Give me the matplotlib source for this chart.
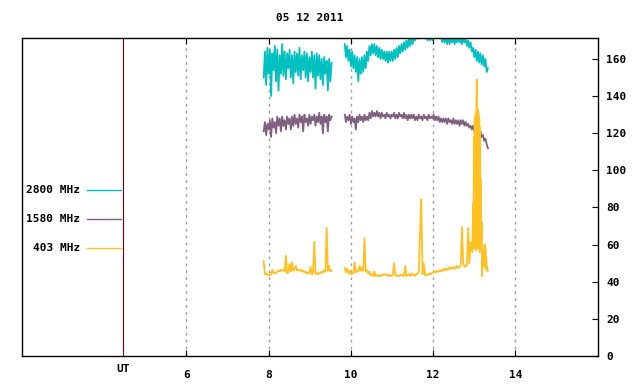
#!/usr/bin/python3
# -*- coding: UTF-8 -*-
# radio flux 05 12 2011, three frequencies
import matplotlib
matplotlib.use("Agg")
import matplotlib.pyplot as plt
import numpy as np

title = "05 12 2011"
labels = ["2800 MHz", "1580 MHz", "403 MHz"]
colors = ["#00c0c0", "#806080", "#ffc020"]
xticks = [6, 8, 10, 12, 14]
yticks = [0, 20, 40, 60, 80, 100, 120, 140, 160]

# time ranges (UT hours) of the two observing blocks
seg1 = (7.88, 9.53)
seg2 = (9.85, 13.33)
burst = (12.95, 13.33)

# 2800 MHz
cyan1 = [150, 164, 146, 166, 152, 165, 140, 163, 154, 167, 148, 165, 143, 162,
         152, 168, 151, 164, 149, 163, 155, 165, 150, 162, 147, 164, 153, 163,
         151, 166, 149, 162, 154, 164, 150, 163, 148, 161, 153, 164, 150, 162,
         144, 163, 151, 162, 149, 160, 146, 161, 152, 159, 143, 160, 148, 158]
cyan2 = [168, 161, 167, 159, 165, 156, 164, 155, 162, 153, 161, 148, 160, 152,
         161, 153, 162, 155, 164, 159, 167, 162, 168, 163, 168, 162, 167, 161,
         166, 160, 165, 160, 164, 159, 164, 158, 164, 159, 164, 159, 165, 160,
         166, 161, 167, 163, 168, 164, 169, 165, 170, 166, 171, 167, 172, 168,
         172, 170, 173, 171, 174, 172, 175, 172, 175, 171, 174, 170, 173, 170,
         173, 170, 174, 172, 175, 172, 174, 171, 173, 169, 172, 169, 172, 168,
         172, 168, 171, 169, 172, 168, 171, 169, 172, 169, 171, 168, 171, 169,
         171, 167, 170, 166, 169, 164, 166, 161, 165, 159, 164, 158, 163, 157,
         162, 156, 160, 153, 155]

# 1580 MHz
purple1 = [121, 126, 119, 125, 122, 127, 118, 128, 123, 126, 120, 129, 124, 128,
           121, 129, 124, 127, 122, 129, 125, 128, 122, 129, 124, 130, 125, 128,
           123, 130, 126, 129, 121, 130, 126, 128, 124, 130, 125, 129, 127, 130,
           124, 129, 126, 131, 125, 129, 120, 130, 126, 129, 121, 130, 127, 129]
purple2 = [130, 126, 129, 127, 130, 125, 129, 126, 128, 122, 129, 126, 130, 127,
           129, 126, 130, 127, 129, 127,
           131, 128, 132, 129, 131, 129, 132, 129, 131, 128, 131, 129, 130, 128,
           131, 129, 130, 128, 130, 129,
           131, 128, 130, 128, 131, 129, 130, 128, 131, 128, 130, 127, 130, 128,
           130, 128, 130, 127, 129, 127,
           130, 128, 129, 127, 130, 128, 129, 127, 130, 128, 129, 128, 130, 127,
           129, 127, 129, 126, 128, 126,
           128, 126, 128, 125, 128, 126, 127, 125, 128, 125, 127, 125, 127, 124,
           127, 125, 127, 124, 126, 124,
           125, 123, 124, 122, 124, 121, 123, 120, 122, 119, 121, 118, 119, 116,
           117, 114, 112]

# 403 MHz
orange1 = [51, 44, 44.5, 43.5, 44, 43.5, 44, 46.5, 44.5, 45, 44.5, 45.5, 46, 45.5,
           46.5, 46, 46.5, 45.5, 54, 44.5, 45, 49.5, 45.5, 50.5, 46, 47, 48.5, 46,
           46.5, 46, 46.5, 45.5, 46, 45, 45.5, 44.5, 45, 44.5, 48, 44, 45, 61.5,
           44, 44.5, 44, 45, 44.5, 45.5, 45, 46, 45.5, 69, 46, 48.5, 45.5, 46]
orange2 = [47.5, 45, 47, 44.5, 46, 44, 45, 44.5, 50.5, 45, 46, 45.5, 48.5, 46,
           47.5, 46, 63.5, 45.5, 46, 44.5, 45.5, 43.5, 44, 43, 45.5, 43, 43.5, 43,
           43.5, 43, 44, 43.5, 44, 44, 43.5, 44, 43, 43.5, 43, 44, 50, 43.5, 43,
           43.5, 43, 43.5, 44, 43, 43.5, 48.5, 43, 43.5, 44, 43, 44.5, 43.5, 44,
           43, 44, 44.5, 45, 66, 84.5, 44, 50, 43.5, 44, 43.5, 44, 44.5, 44, 45,
           45, 45.5, 45, 46, 45.5, 46, 45.5, 46.5, 46, 47, 46, 47, 46.5, 48, 47,
           47.5, 47, 48, 47, 48.5, 47.5, 48, 48.5, 69.5, 50, 48, 49, 48.5, 69, 50,
           61, 56.5]
orange_burst = [56, 70, 82, 60, 118, 58, 128, 62, 130, 57, 135, 149, 65, 133, 58,
                131, 60, 128, 56, 123, 62, 95, 63, 72, 43, 55, 48, 53, 57, 50, 60,
                48, 58, 47, 53, 46, 48, 46, 46]


def seg_time(rng, vals):
    return np.linspace(rng[0], rng[1], len(vals))


fig = plt.figure(figsize=(6.4, 3.84), dpi=100)
ax = fig.add_axes([0.034, 0.073, 0.900, 0.828])

font = {'family': 'DejaVu Sans Mono', 'weight': 'bold', 'size': 8}

lw = 1.3
ax.plot(seg_time(seg1, cyan1), cyan1, color=colors[0], lw=lw)
ax.plot(seg_time(seg2, cyan2), cyan2, color=colors[0], lw=lw)
ax.plot(seg_time(seg1, purple1), purple1, color=colors[1], lw=lw)
ax.plot(seg_time(seg2, purple2), purple2, color=colors[1], lw=lw)
ax.plot(seg_time(seg1, orange1), orange1, color=colors[2], lw=lw)
# second block: regular sampling up to the burst, then the fine burst part
t_o2 = np.linspace(seg2[0], seg2[0] + 0.03 * (len(orange2) - 1), len(orange2))
t_b = seg_time(burst, orange_burst)
ax.plot(np.concatenate([t_o2, t_b]), orange2 + orange_burst, color=colors[2], lw=lw)

ax.set_xlim(2, 16)
ax.set_ylim(0, 171.3)

# dotted grid on the hour ticks
for x in xticks:
    ax.axvline(x, color='#a0a0a0', lw=1, ls=(0, (2, 3)), zorder=0)
# UT marker line
ax.axvline(4.46, color='#7f0000', lw=0.8)
ax.text(4.46, -0.025, 'UT', transform=ax.get_xaxis_transform(),
        ha='center', va='top', **font)

ax.set_xticks(xticks)
ax.set_xticklabels([str(x) for x in xticks], **font)
ax.set_yticks(yticks)
ax.set_yticklabels([str(y) for y in yticks], **font)
ax.yaxis.tick_right()
ax.tick_params(axis='x', direction='in', length=4, top=True, pad=10, width=0.8)
ax.tick_params(axis='y', direction='in', length=4, left=False, right=True,
               pad=6, width=0.8)
for s in ax.spines.values():
    s.set_linewidth(1)

# legend drawn by hand on the left
leg_y = [0.522, 0.431, 0.340]
for lab, c, y in zip(labels, colors, leg_y):
    ax.text(0.101, y, lab, transform=ax.transAxes, ha='right', va='center', **font)
    ax.plot([0.114, 0.172], [y, y], transform=ax.transAxes, color=c, lw=1)

ax.set_title(title, pad=12, **font)

plt.savefig("out.png")
